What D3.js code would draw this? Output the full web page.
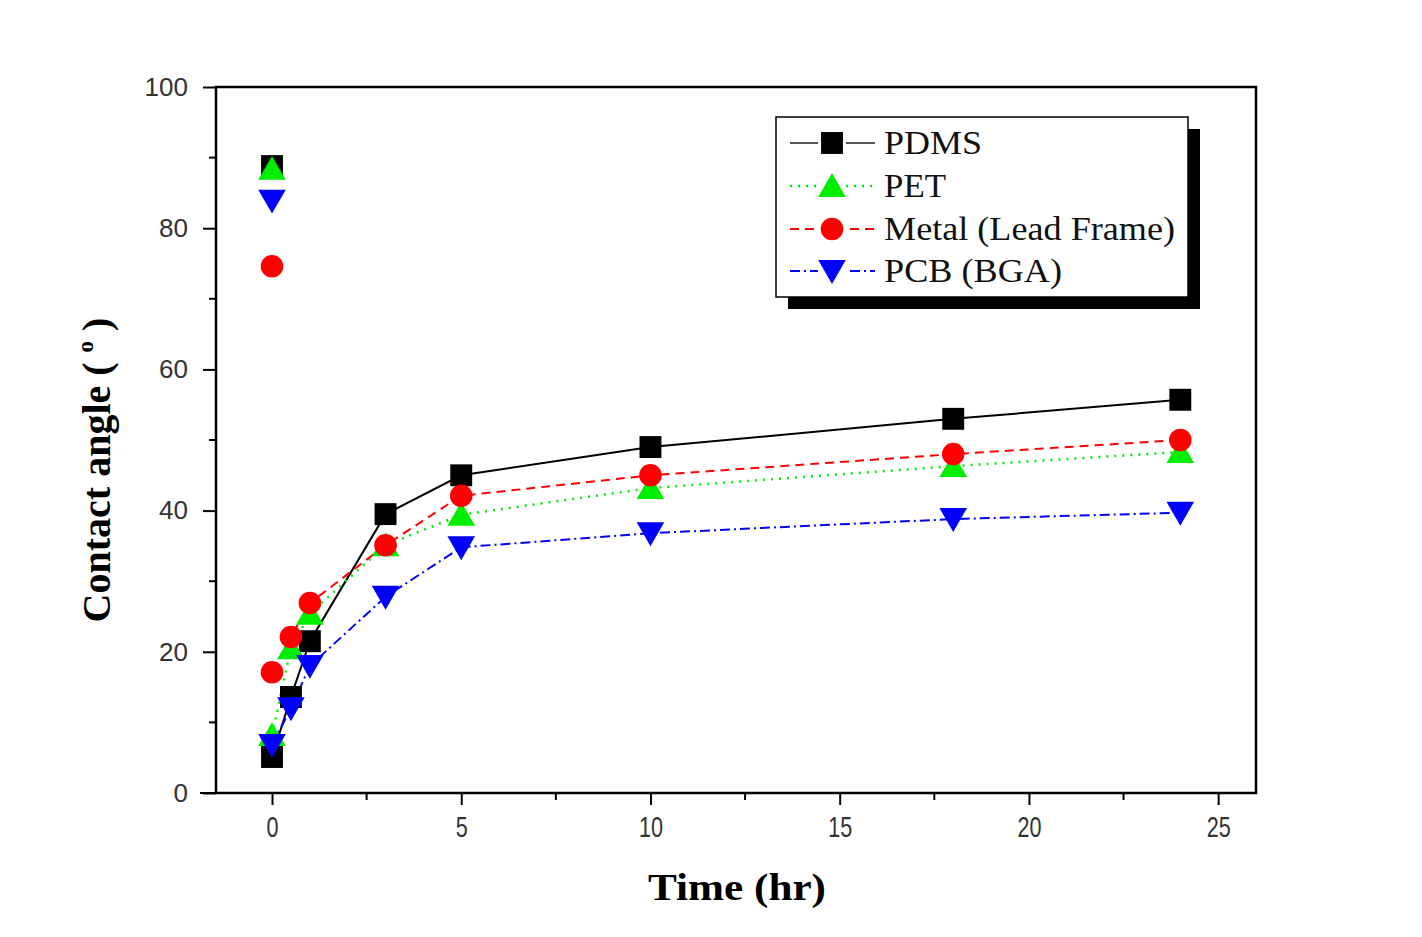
<!DOCTYPE html>
<html><head><meta charset="utf-8">
<script src="https://cdn.jsdelivr.net/npm/d3@7"></script>
<style>body{margin:0;background:#fff}</style>
</head><body>
<svg id="c" width="1422" height="937"></svg>
<script>
const times = [0, 0.5, 1, 3, 5, 10, 18, 24];
const seriesNames = ["PDMS", "PET", "Metal (Lead Frame)", "PCB (BGA)"];
const pdms  = [5.1, 13.6, 21.5, 39.5, 45.0, 49.0, 53.0, 55.7];
const pet   = [8.2, 20.5, 25.4, 35.1, 39.4, 43.2, 46.3, 48.3];
const metal = [17.1, 22.1, 26.9, 35.1, 42.1, 45.0, 48.0, 50.0];
const pcb   = [6.8, 12.0, 18.0, 27.8, 34.8, 36.8, 38.8, 39.7];
const initialValues = [88.8, 88.4, 74.6, 83.9]; // untreated, at t = 0
const xTicks = [0, 5, 10, 15, 20, 25];
const yTicks = [0, 20, 40, 60, 80, 100];

const svg = d3.select("#c");
const L = 216, R = 1256, T = 87, B = 793;
const x = d3.scaleLinear().domain([-1.48, 26.0]).range([L, R]);
const y = d3.scaleLinear().domain([0, 100]).range([B, T]);

const styles = [
  {color:"#000000", dash:null, width:2, sym:d3.symbolSquare, size:480, rot:0},
  {color:"#00ee00", dash:"2,6", width:2.5, sym:d3.symbolTriangle, size:330, rot:0},
  {color:"#ff0000", dash:"9,6", width:2, sym:d3.symbolCircle, size:400, rot:0},
  {color:"#0000ff", dash:"10,4,2,4", width:2, sym:d3.symbolTriangle, size:330, rot:180}
];
const data = [pdms, pet, metal, pcb];

// frame
svg.append("rect").attr("x",L).attr("y",T).attr("width",R-L).attr("height",B-T)
  .attr("fill","none").attr("stroke","#000").attr("stroke-width",2.5);

// axes
const xAxis = d3.axisBottom(x).tickValues(xTicks).tickSize(12).tickFormat(d3.format("d"));
const gx = svg.append("g").attr("transform",`translate(0,${B})`).call(xAxis);
gx.select(".domain").remove();
gx.selectAll("line").attr("stroke","#000").attr("stroke-width",2);
gx.selectAll("text").attr("font-family","'Liberation Sans',Arial,sans-serif")
  .attr("font-size",30).attr("fill","#333").attr("y",23).attr("dy","0.71em")
  .attr("transform","scale(0.72,1)");
const xMinor = d3.range(2.5, 25, 5);
svg.append("g").selectAll("line").data(xMinor).join("line")
  .attr("x1",d=>x(d)).attr("x2",d=>x(d)).attr("y1",B).attr("y2",B+7)
  .attr("stroke","#000").attr("stroke-width",2);
svg.append("line").attr("x1",200).attr("x2",L).attr("y1",B).attr("y2",B).attr("stroke","#000").attr("stroke-width",2);

const yAxis = d3.axisLeft(y).tickValues(yTicks).tickSize(13);
const gy = svg.append("g").attr("transform",`translate(${L},0)`).call(yAxis);
gy.select(".domain").remove();
gy.selectAll("line").attr("stroke","#000").attr("stroke-width",2);
gy.selectAll("text").attr("font-family","'Liberation Sans',Arial,sans-serif")
  .attr("font-size",26).attr("fill","#333").attr("x",-28);
const yMinor = d3.range(10, 100, 20);
svg.append("g").selectAll("line").data(yMinor).join("line")
  .attr("x1",L-7).attr("x2",L).attr("y1",d=>y(d)).attr("y2",d=>y(d))
  .attr("stroke","#000").attr("stroke-width",2);

// titles
svg.append("text").attr("x",737).attr("y",900).attr("text-anchor","middle")
  .attr("font-family","'Liberation Serif','Times New Roman',serif").attr("font-weight","bold")
  .attr("font-size",38).attr("textLength",178).attr("lengthAdjust","spacingAndGlyphs")
  .text("Time (hr)");
const yt = svg.append("text").attr("transform","translate(110,470) rotate(-90)")
  .attr("text-anchor","middle")
  .attr("font-family","'Liberation Serif','Times New Roman',serif").attr("font-weight","bold")
  .attr("font-size",40);
yt.append("tspan").text("Contact angle ( ");
yt.append("tspan").attr("font-size",23).attr("dy",-17).text("o");
yt.append("tspan").attr("dy",17).text(" )");

// lines
const line = d3.line().x((d,i)=>x(times[i])).y(d=>y(d));
data.forEach((vals,k)=>{
  const s = styles[k];
  svg.append("path").datum(vals).attr("d",line).attr("fill","none")
    .attr("stroke",s.color).attr("stroke-width",s.width)
    .attr("stroke-dasharray",s.dash);
});
// markers
function marker(g, s, cx, cy){
  const extra = s.sym===d3.symbolTriangle ? (s.rot? -3 : 3) : 0;
  g.append("path").attr("d",d3.symbol().type(s.sym).size(s.size)())
    .attr("transform",`translate(${cx},${cy+extra}) rotate(${s.rot})`)
    .attr("fill",s.color);
}
data.forEach((vals,k)=>{
  const g = svg.append("g");
  vals.forEach((v,i)=>marker(g, styles[k], x(times[i]), y(v)));
});
// initial points
const order = [0,3,2,1];
order.forEach(k=>marker(svg.append("g"), styles[k], x(0), y(initialValues[k])));

// legend
const lg = svg.append("g");
lg.append("rect").attr("x",788).attr("y",129).attr("width",412).attr("height",180).attr("fill","#000");
lg.append("rect").attr("x",776).attr("y",117).attr("width",412).attr("height",180)
  .attr("fill","#fff").attr("stroke","#000").attr("stroke-width",1.5);
const rowsY = [143, 186, 229, 271];
const textLens = [98, 62, 291, 178];
seriesNames.forEach((n,k)=>{
  const s = styles[k], yy = rowsY[k];
  lg.append("line").attr("x1",790).attr("x2",875).attr("y1",yy).attr("y2",yy)
    .attr("stroke",s.color).attr("stroke-width",s.width).attr("stroke-dasharray",s.dash)
    .attr("stroke", k===0 ? "#555" : s.color);
  lg.append("rect").attr("x",818).attr("y",yy-12).attr("width",28).attr("height",24).attr("fill","#fff");
  marker(lg, s, 832, yy);
  lg.append("text").attr("x",884).attr("y",yy+11)
    .attr("font-family","'Liberation Serif','Times New Roman',serif").attr("font-size",33)
    .attr("textLength",textLens[k]).attr("lengthAdjust","spacingAndGlyphs")
    .attr("fill","#111").text(n);
});
</script>
</body></html>
